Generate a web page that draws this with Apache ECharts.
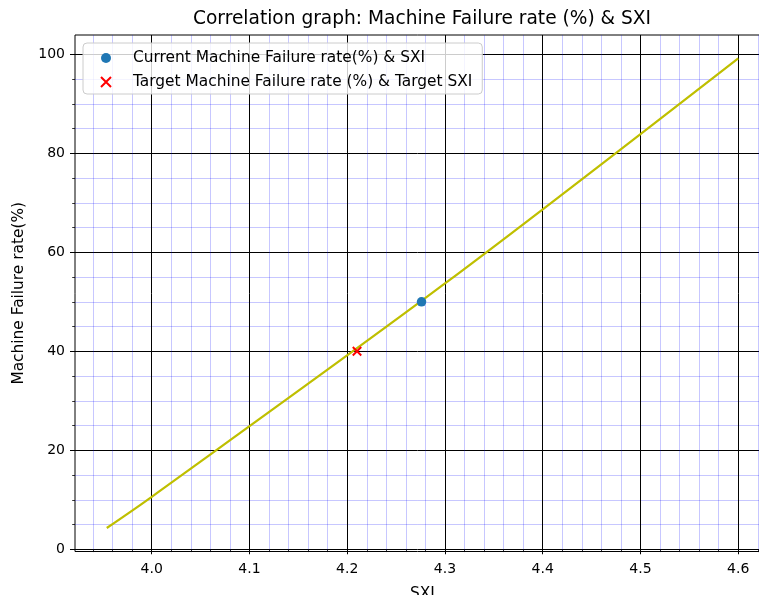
<!DOCTYPE html>
<html><head><meta charset="utf-8">
<script src="https://cdn.jsdelivr.net/npm/echarts@6/dist/echarts.min.js"></script>
<style>html,body{margin:0;padding:0;background:#fff}#c{width:759px;height:595px}</style>
</head><body><div id="c"></div>
<script>
const titleText = 'Correlation graph: Machine Failure rate (%) & SXI';
const xName = 'SXI';
const yName = 'Machine Failure rate(%)';
const currentLabel = 'Current Machine Failure rate(%) & SXI';
const targetLabel = 'Target Machine Failure rate (%) & Target SXI';

// trend line
const lineSXI = [3.954, 4.0, 4.3, 4.6];
const lineRate = [4.3, 10.6, 53.7, 99.2];
const currentPoint = [4.276, 50];
const targetPoint = [4.21, 40];

const xLim = [3.9215, 4.6323];
const yLim = [-0.45, 103.9];
const xMajorTicks = [4.0, 4.1, 4.2, 4.3, 4.4, 4.5, 4.6];
const xMinorTicks = [3.94, 3.96, 3.98, 4.02, 4.04, 4.06, 4.08, 4.12, 4.14, 4.16, 4.18,
  4.22, 4.24, 4.26, 4.28, 4.32, 4.34, 4.36, 4.38, 4.42, 4.44, 4.46, 4.48,
  4.52, 4.54, 4.56, 4.58, 4.62];
const yMajorTicks = [0, 20, 40, 60, 80, 100];
const yMinorTicks = [5, 10, 15, 25, 30, 35, 45, 50, 55, 65, 70, 75, 85, 90, 95];

const FONT = 'DejaVu Sans';
const minorGrid = 'rgba(0,0,255,0.22)';

const chart = echarts.init(document.getElementById('c'), null, {renderer: 'canvas'});

function minorAxis(lim, ticks, pos) {
  return {
    type: 'value', min: lim[0], max: lim[1], position: pos,
    axisLine: {show: false},
    axisLabel: {show: false},
    axisTick: {show: true, length: 2.8, customValues: ticks, lineStyle: {color: '#000', width: 0.8}},
    splitLine: {show: true, lineStyle: {color: minorGrid, width: 1}}
  };
}

const option = {
  animation: false,
  backgroundColor: '#fff',
  title: {
    text: titleText, left: 422, top: 10, textAlign: 'center', padding: 0,
    textStyle: {fontFamily: FONT, fontSize: 18.6, fontWeight: 'normal', color: '#000'}
  },
  grid: {
    left: 75, top: 35, width: 694.8, height: 516.5,
    containLabel: false, outerBoundsMode: 'none',
    show: true, borderColor: '#000', borderWidth: 1, backgroundColor: '#fff'
  },
  legend: {
    orient: 'vertical', left: 83, top: 43,
    padding: [6, 10, 3, 17], itemGap: 6, itemWidth: 44, itemHeight: 10,
    borderColor: '#cccccc', borderWidth: 1, borderRadius: 4,
    backgroundColor: 'rgba(255,255,255,0.8)',
    textStyle: {fontFamily: FONT, fontSize: 15.4, lineHeight: 18, color: '#000'},
    data: [currentLabel, targetLabel]
  },
  xAxis: [
    minorAxis(xLim, xMinorTicks, 'bottom'),
    {
      type: 'value', min: xLim[0], max: xLim[1], position: 'bottom',
      axisLine: {show: false},
      axisTick: {show: true, length: 5, customValues: xMajorTicks, lineStyle: {color: '#000', width: 1}},
      axisLabel: {customValues: xMajorTicks, formatter: v => v.toFixed(1), margin: 11,
        color: '#000', fontFamily: FONT, fontSize: 14},
      splitLine: {show: true, lineStyle: {color: '#000', width: 1}},
      name: xName, nameLocation: 'middle', nameGap: 35,
      nameTextStyle: {fontFamily: FONT, fontSize: 15.4, color: '#000'}
    }
  ],
  yAxis: [
    minorAxis(yLim, yMinorTicks, 'left'),
    {
      type: 'value', min: yLim[0], max: yLim[1], position: 'left',
      axisLine: {show: false},
      axisTick: {show: true, length: 5, customValues: yMajorTicks, lineStyle: {color: '#000', width: 1}},
      axisLabel: {customValues: yMajorTicks, margin: 10,
        color: '#000', fontFamily: FONT, fontSize: 14},
      splitLine: {show: true, lineStyle: {color: '#000', width: 1}},
      name: yName, nameLocation: 'middle', nameGap: 49,
      nameTextStyle: {fontFamily: FONT, fontSize: 15.4, color: '#000'}
    }
  ],
  series: [
    {
      type: 'line', name: 'fit', xAxisIndex: 1, yAxisIndex: 1,
      data: lineSXI.map((x, i) => [x, lineRate[i]]),
      symbol: 'none', showSymbol: false, silent: true, z: 3, smooth: 0.3,
      lineStyle: {color: '#bfbf00', width: 2.2}
    },
    {
      type: 'scatter', name: currentLabel, xAxisIndex: 1, yAxisIndex: 1,
      data: [currentPoint], symbol: 'circle', symbolSize: 9.5, z: 4,
      itemStyle: {color: '#1f77b4', opacity: 1}
    },
    {
      type: 'scatter', name: targetLabel, xAxisIndex: 1, yAxisIndex: 1,
      data: [targetPoint], symbol: 'path://M0,0L10,10M10,0L0,10', symbolSize: 8.5, z: 5,
      itemStyle: {color: 'rgba(0,0,0,0)', borderColor: '#ff0000', borderWidth: 1.9, opacity: 1}
    }
  ]
};
chart.setOption(option);
</script>
</body></html>
